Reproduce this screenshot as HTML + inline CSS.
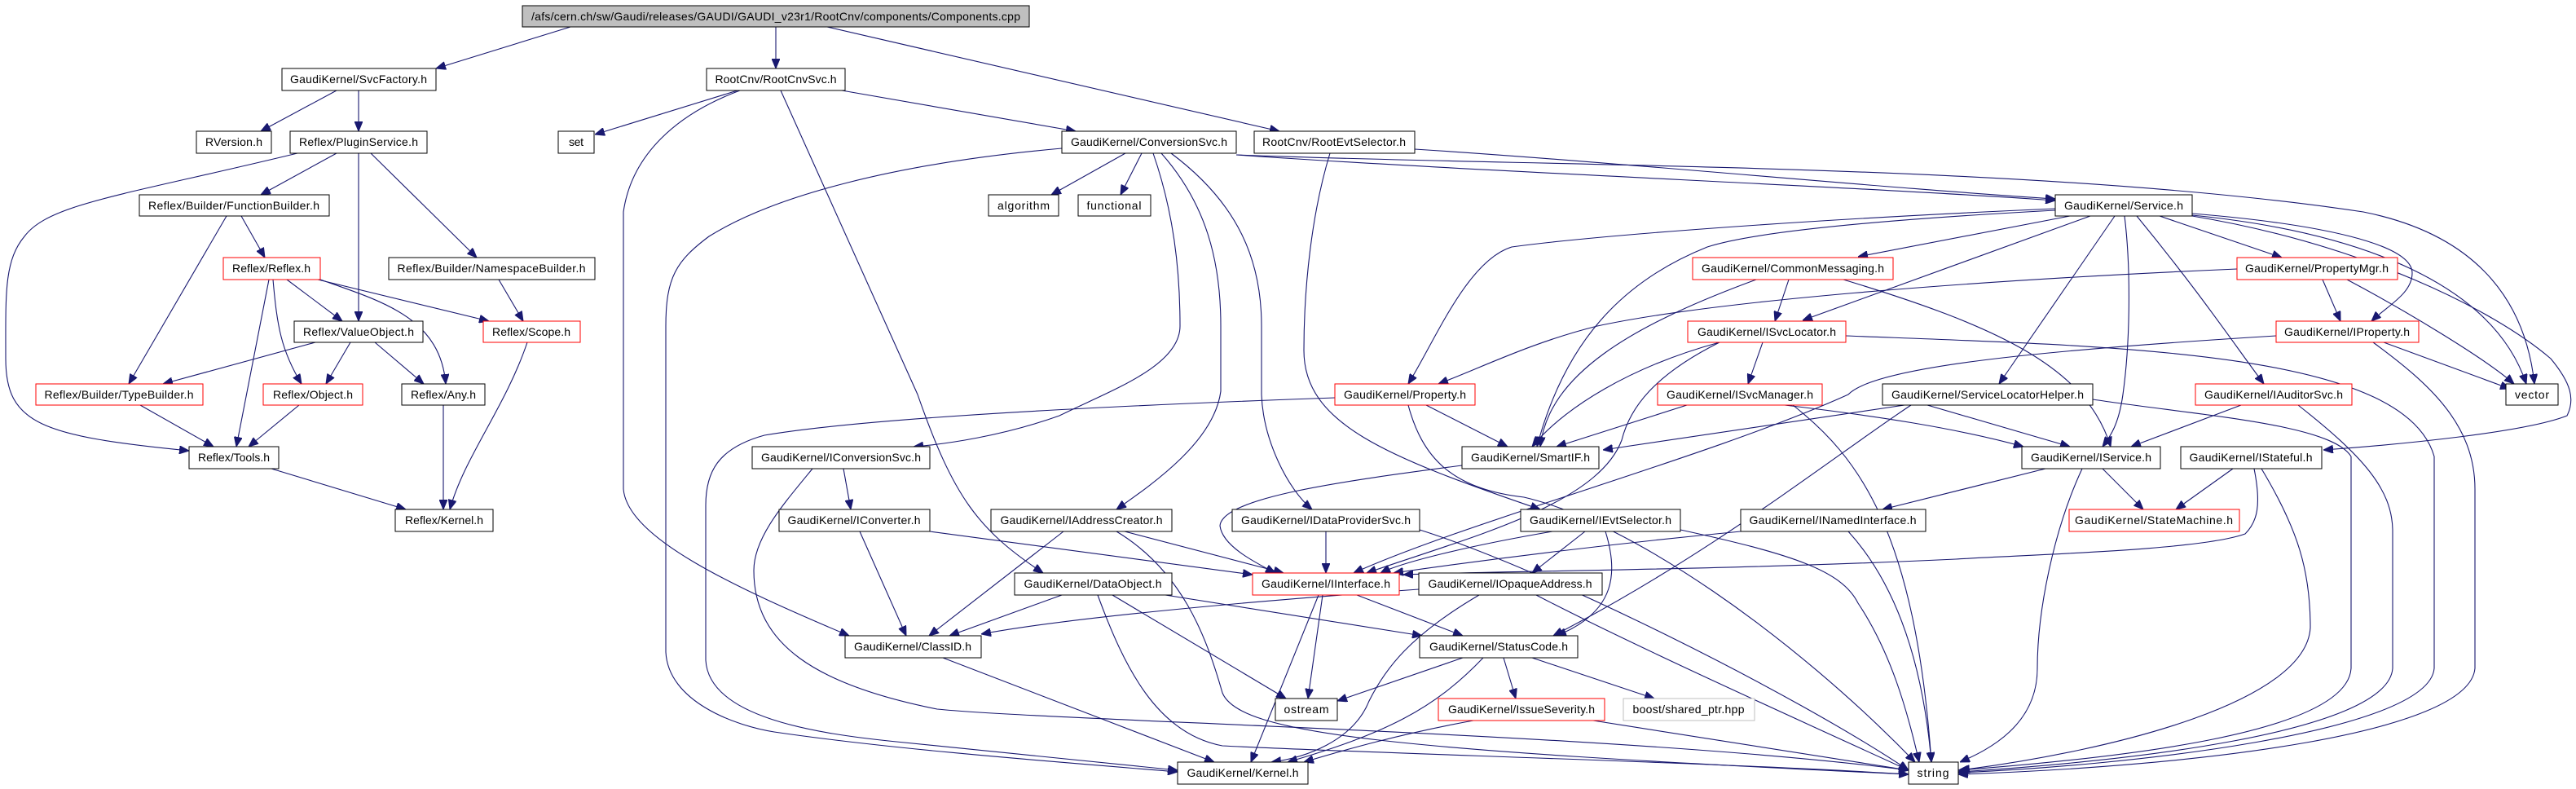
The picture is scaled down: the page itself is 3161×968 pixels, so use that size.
<!DOCTYPE html>
<html><head><meta charset="utf-8"><style>
html,body{margin:0;padding:0;background:#fff}
svg{display:block}
text{font-family:"Liberation Sans",sans-serif;font-size:14px;fill:#000}
.e{fill:none;stroke:#191970;stroke-width:1.1}
</style></head><body>
<svg width="3161" height="968" viewBox="0 0 3161 968" xmlns="http://www.w3.org/2000/svg">
<defs><marker id="a" markerUnits="userSpaceOnUse" markerWidth="12" markerHeight="10" refX="12" refY="5" orient="auto"><path d="M0,0 L12,5 L0,10 z" fill="#191970" stroke="#191970"/></marker></defs>
<g class="e" marker-end="url(#a)">
<path d="M700 33 L535 84"/>
<path d="M952 33 L952 84"/>
<path d="M1015 33 L1570 161"/>
<path d="M413 111 L320 161"/>
<path d="M440 111 L440 161"/>
<path d="M413 188 L320 239"/>
<path d="M440 188 L440 394"/>
<path d="M455 188 L585 316"/>
<path d="M365 188 C150 240,60 250,30 290 C5 320,7 360,7 440 C7 520,50 535,232 553"/>
<path d="M296 265 L325 316"/>
<path d="M278 265 L158 471"/>
<path d="M352 343 L420 394"/>
<path d="M390 343 L600 394"/>
<path d="M393 343 C470 370,540 390,547 471"/>
<path d="M335 343 C340 400,345 430,370 471"/>
<path d="M330 343 L290 548"/>
<path d="M612 343 L642 394"/>
<path d="M387 420 L200 471"/>
<path d="M430 420 L400 471"/>
<path d="M460 420 L520 471"/>
<path d="M172 497 L262 548"/>
<path d="M367 497 L305 548"/>
<path d="M544 497 L544 625"/>
<path d="M647 420 C620 500,570 560,552 625"/>
<path d="M333 575 L498 625"/>
<path d="M905 111 L730 165"/>
<path d="M908 111 C830 140,775 190,765 260 L765 600 C770 660,900 720,1042 780"/>
<path d="M958 111 L1126 484 C1170 610,1200 650,1280 703"/>
<path d="M1033 111 L1320 161"/>
<path d="M1381 188 L1290 239"/>
<path d="M1401 188 L1375 239"/>
<path d="M1415 188 C1440 260,1448 330,1448 400 C1448 450,1360 480,1300 510 C1230 535,1160 545,1121 548"/>
<path d="M1425 188 C1480 250,1498 320,1498 400 L1498 480 C1490 540,1420 590,1370 625"/>
<path d="M1437 188 C1520 250,1548 320,1548 400 L1548 484 C1550 540,1580 600,1610 625"/>
<path d="M1303 182 C1100 200,950 240,870 290 C830 320,817 340,817 400 L817 800 C820 860,900 890,950 898 C1100 920,1300 935,1445 947"/>
<path d="M1517 190 C1800 210,2300 230,2522 246"/>
<path d="M1517 190 C1900 205,2500 200,2900 260 C3050 290,3100 380,3110 471"/>
<path d="M1736 183 C2000 200,2300 230,2522 244"/>
<path d="M1632 188 C1610 260,1600 350,1600 430 C1600 520,1700 560,1890 625"/>
<path d="M2540 265 L2280 315"/>
<path d="M2565 265 L2212 393"/>
<path d="M2522 256 C2200 270,1950 290,1855 303 C1800 320,1760 420,1728 471"/>
<path d="M2522 258 C2300 270,2150 285,2095 303 C1990 345,1920 420,1886 548"/>
<path d="M2650 265 L2800 316"/>
<path d="M2690 262 C2850 275,2960 300,2960 335 C2960 360,2930 375,2910 394"/>
<path d="M2690 264 C2900 285,3060 350,3100 471"/>
<path d="M2595 265 L2453 471"/>
<path d="M2607 265 C2615 330,2614 420,2605 484 C2600 520,2590 535,2580 548"/>
<path d="M2622 265 C2700 360,2740 420,2778 471"/>
<path d="M2690 265 C2900 300,3060 380,3130 440 C3155 470,3160 490,3150 510 C3100 530,2950 545,2851 552"/>
<path d="M2568 490 C2700 510,2860 520,2885 560 L2885 820 C2880 900,2600 930,2403 945"/>
<path d="M2820 497 C2900 560,2935 600,2936 650 L2936 820 C2930 900,2600 935,2403 947"/>
<path d="M2265 412 C2600 425,2950 430,2987 560 L2987 820 C2980 900,2600 940,2403 948"/>
<path d="M2912 420 C2980 470,3037 520,3037 600 L3037 820 C3030 900,2700 940,2403 950"/>
<path d="M2925 420 L3080 477"/>
<path d="M2850 343 L2872 394"/>
<path d="M2880 343 C2950 380,3050 440,3085 471"/>
<path d="M2745 330 C2400 345,2100 370,1960 400 C1880 420,1820 450,1765 471"/>
<path d="M2766 575 C2775 620,2770 640,2755 655 C2700 675,2500 680,2400 686 C2100 700,1850 700,1722 705"/>
<path d="M2793 412 C2500 430,2300 450,2268 484 C2100 560,1800 640,1661 703"/>
<path d="M2110 420 C2030 460,2000 500,1990 540 C1960 620,1800 660,1677 703"/>
<path d="M1794 571 C1650 590,1500 610,1497 645 C1500 670,1540 690,1565 703"/>
<path d="M1905 652 C1800 670,1720 690,1694 703"/>
<path d="M2136 652 C1950 670,1800 690,1710 703"/>
<path d="M2510 575 L2310 625"/>
<path d="M2580 575 L2630 625"/>
<path d="M2555 575 C2520 650,2500 750,2500 820 C2500 890,2440 920,2405 935"/>
<path d="M2740 575 L2670 625"/>
<path d="M2775 575 C2820 650,2835 700,2835 770 C2830 860,2600 920,2405 945"/>
<path d="M2750 497 L2615 548"/>
<path d="M2070 497 L1910 548"/>
<path d="M2190 497 C2300 510,2400 525,2483 548"/>
<path d="M2200 497 C2280 560,2350 650,2370 935"/>
<path d="M2195 343 L2178 394"/>
<path d="M2155 343 C2000 400,1900 460,1890 548"/>
<path d="M2262 343 C2450 400,2560 450,2590 548"/>
<path d="M2163 420 L2145 471"/>
<path d="M2110 420 C2000 450,1920 500,1880 548"/>
<path d="M2337 497 L1967 552"/>
<path d="M2365 497 L2540 548"/>
<path d="M2345 497 C2250 560,2100 680,1906 780"/>
<path d="M1750 497 L1850 548"/>
<path d="M1638 488 C1300 500,1050 515,938 534 C880 550,866 580,866 620 L866 810 C870 880,1000 900,1100 910 C1250 925,1350 935,1445 945"/>
<path d="M1728 497 C1745 560,1780 600,1870 610 C2000 640,2200 780,2350 935"/>
<path d="M1035 575 L1044 625"/>
<path d="M997 575 C960 620,925 660,925 700 C925 790,1000 840,1150 870 C1300 885,2000 900,2342 945"/>
<path d="M1055 652 L1112 780"/>
<path d="M1141 652 L1537 705"/>
<path d="M1305 652 L1140 780"/>
<path d="M1380 652 L1575 703"/>
<path d="M1370 652 C1450 700,1480 780,1500 850 C1520 900,1700 920,2342 950"/>
<path d="M1627 652 L1627 703"/>
<path d="M1742 650 C1900 700,2200 850,2342 945"/>
<path d="M1945 652 L1880 703"/>
<path d="M1970 652 C1985 700,1985 750,1910 780"/>
<path d="M2062 650 C2200 680,2260 700,2280 740 C2320 800,2340 870,2355 935"/>
<path d="M2268 652 C2330 720,2360 820,2370 935"/>
<path d="M1303 730 L1165 780"/>
<path d="M1430 730 L1745 780"/>
<path d="M1365 730 L1578 857"/>
<path d="M1347 730 C1380 820,1420 900,1500 915 C1700 925,2100 935,2342 950"/>
<path d="M1623 730 L1605 857"/>
<path d="M1665 730 L1795 780"/>
<path d="M1618 730 L1535 935"/>
<path d="M1741 723 C1500 740,1300 760,1204 778"/>
<path d="M1815 730 C1730 780,1700 820,1680 860 C1660 910,1600 930,1560 935"/>
<path d="M1885 730 C2000 790,2200 880,2342 945"/>
<path d="M1157 807 L1490 935"/>
<path d="M1795 807 L1641 860"/>
<path d="M1845 807 L1860 857"/>
<path d="M1880 807 L2030 857"/>
<path d="M1820 807 C1760 870,1700 900,1580 935"/>
<path d="M1808 884 C1720 900,1650 920,1600 935"/>
<path d="M1955 884 L2342 945"/>
</g>
<g fill="#fff" stroke="#000" stroke-width="1">
<rect x="641" y="7" width="622" height="26" fill="#bfbfbf"/>
<rect x="346" y="84" width="189" height="27"/>
<rect x="867" y="84" width="170" height="27"/>
<rect x="241" y="161" width="92" height="27"/>
<rect x="356" y="161" width="168" height="27"/>
<rect x="685" y="161" width="44" height="27"/>
<rect x="1303" y="161" width="214" height="27"/>
<rect x="1539" y="161" width="197" height="27"/>
<rect x="171" y="239" width="233" height="26"/>
<rect x="1213" y="239" width="86" height="26"/>
<rect x="1323" y="239" width="89" height="26"/>
<rect x="2522" y="239" width="168" height="26"/>
<rect x="477" y="316" width="253" height="27"/>
<rect x="361" y="394" width="158" height="26"/>
<rect x="493" y="471" width="102" height="26"/>
<rect x="2310" y="471" width="258" height="26"/>
<rect x="3075" y="471" width="64" height="26"/>
<rect x="232" y="548" width="110" height="27"/>
<rect x="923" y="548" width="218" height="27"/>
<rect x="1794" y="548" width="168" height="27"/>
<rect x="2481" y="548" width="170" height="27"/>
<rect x="2676" y="548" width="173" height="27"/>
<rect x="485" y="625" width="120" height="27"/>
<rect x="956" y="625" width="185" height="27"/>
<rect x="1216" y="625" width="222" height="27"/>
<rect x="1512" y="625" width="230" height="27"/>
<rect x="1866" y="625" width="196" height="27"/>
<rect x="2136" y="625" width="227" height="27"/>
<rect x="1245" y="703" width="193" height="27"/>
<rect x="1741" y="703" width="225" height="27"/>
<rect x="1037" y="780" width="167" height="27"/>
<rect x="1742" y="780" width="194" height="27"/>
<rect x="1565" y="857" width="76" height="27"/>
<rect x="1992" y="857" width="161" height="27" stroke="#bfbfbf"/>
<rect x="1445" y="935" width="160" height="27"/>
<rect x="2342" y="935" width="61" height="27"/>
</g>
<g fill="#fff" stroke="#f00" stroke-width="1">
<rect x="274" y="316" width="119" height="27"/>
<rect x="2077" y="316" width="246" height="27"/>
<rect x="2745" y="316" width="197" height="27"/>
<rect x="593" y="394" width="119" height="26"/>
<rect x="2071" y="394" width="194" height="26"/>
<rect x="2793" y="394" width="175" height="26"/>
<rect x="44" y="471" width="205" height="26"/>
<rect x="323" y="471" width="122" height="26"/>
<rect x="1638" y="471" width="172" height="26"/>
<rect x="2034" y="471" width="202" height="26"/>
<rect x="2694" y="471" width="192" height="26"/>
<rect x="2539" y="625" width="209" height="27"/>
<rect x="1537" y="703" width="180" height="27"/>
<rect x="1765" y="857" width="204" height="27"/>
</g>
<g text-anchor="middle" lengthAdjust="spacingAndGlyphs">
<text x="952" y="25" textLength="600">/afs/cern.ch/sw/Gaudi/releases/GAUDI/GAUDI_v23r1/RootCnv/components/Components.cpp</text>
<text x="440" y="102" textLength="168">GaudiKernel/SvcFactory.h</text>
<text x="952" y="102" textLength="149">RootCnv/RootCnvSvc.h</text>
<text x="287" y="179" textLength="70">RVersion.h</text>
<text x="440" y="179" textLength="146">Reflex/PluginService.h</text>
<text x="707" y="179" textLength="18">set</text>
<text x="1410" y="179" textLength="192">GaudiKernel/ConversionSvc.h</text>
<text x="1637" y="179" textLength="176">RootCnv/RootEvtSelector.h</text>
<text x="287" y="257" textLength="210">Reflex/Builder/FunctionBuilder.h</text>
<text x="1256" y="257" textLength="64">algorithm</text>
<text x="1367" y="257" textLength="67">functional</text>
<text x="2606" y="257" textLength="146">GaudiKernel/Service.h</text>
<text x="333" y="334" textLength="96">Reflex/Reflex.h</text>
<text x="603" y="334" textLength="231">Reflex/Builder/NamespaceBuilder.h</text>
<text x="2200" y="334" textLength="224">GaudiKernel/CommonMessaging.h</text>
<text x="2843" y="334" textLength="176">GaudiKernel/PropertyMgr.h</text>
<text x="440" y="412" textLength="136">Reflex/ValueObject.h</text>
<text x="652" y="412" textLength="96">Reflex/Scope.h</text>
<text x="2168" y="412" textLength="170">GaudiKernel/ISvcLocator.h</text>
<text x="2880" y="412" textLength="154">GaudiKernel/IProperty.h</text>
<text x="146" y="489" textLength="183">Reflex/Builder/TypeBuilder.h</text>
<text x="384" y="489" textLength="98">Reflex/Object.h</text>
<text x="544" y="489" textLength="80">Reflex/Any.h</text>
<text x="1724" y="489" textLength="150">GaudiKernel/Property.h</text>
<text x="2135" y="489" textLength="180">GaudiKernel/ISvcManager.h</text>
<text x="2439" y="489" textLength="236">GaudiKernel/ServiceLocatorHelper.h</text>
<text x="2790" y="489" textLength="170">GaudiKernel/IAuditorSvc.h</text>
<text x="3107" y="489" textLength="42">vector</text>
<text x="287" y="566" textLength="88">Reflex/Tools.h</text>
<text x="1032" y="566" textLength="196">GaudiKernel/IConversionSvc.h</text>
<text x="1878" y="566" textLength="146">GaudiKernel/SmartIF.h</text>
<text x="2566" y="566" textLength="148">GaudiKernel/IService.h</text>
<text x="2762" y="566" textLength="151">GaudiKernel/IStateful.h</text>
<text x="545" y="643" textLength="96">Reflex/Kernel.h</text>
<text x="1048" y="643" textLength="163">GaudiKernel/IConverter.h</text>
<text x="1327" y="643" textLength="199">GaudiKernel/IAddressCreator.h</text>
<text x="1627" y="643" textLength="208">GaudiKernel/IDataProviderSvc.h</text>
<text x="1964" y="643" textLength="174">GaudiKernel/IEvtSelector.h</text>
<text x="2249" y="643" textLength="205">GaudiKernel/INamedInterface.h</text>
<text x="2643" y="643" textLength="194">GaudiKernel/StateMachine.h</text>
<text x="1341" y="721" textLength="169">GaudiKernel/DataObject.h</text>
<text x="1627" y="721" textLength="158">GaudiKernel/IInterface.h</text>
<text x="1853" y="721" textLength="201">GaudiKernel/IOpaqueAddress.h</text>
<text x="1120" y="798" textLength="144">GaudiKernel/ClassID.h</text>
<text x="1839" y="798" textLength="170">GaudiKernel/StatusCode.h</text>
<text x="1603" y="875" textLength="55">ostream</text>
<text x="1867" y="875" textLength="180">GaudiKernel/IssueSeverity.h</text>
<text x="2072" y="875" textLength="137">boost/shared_ptr.hpp</text>
<text x="1525" y="953" textLength="137">GaudiKernel/Kernel.h</text>
<text x="2372" y="953" textLength="39">string</text>
</g>
</svg>
</body></html>
